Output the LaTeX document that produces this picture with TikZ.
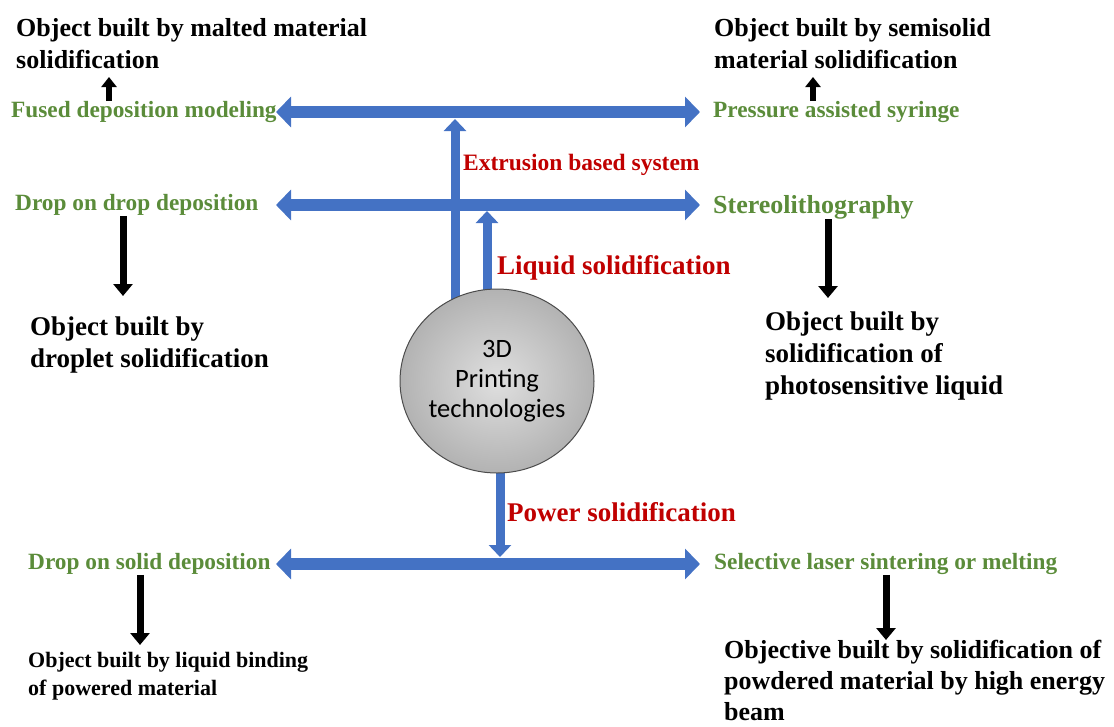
\documentclass[tikz,border=0pt]{standalone}
\usepackage{fontspec}
\setmainfont{Liberation Serif}
\newfontfamily\calib{Carlito}
\usetikzlibrary{arrows.meta,shapes.geometric}
\definecolor{barblue}{HTML}{4472C4}
\definecolor{techgreen}{HTML}{5B8C3A}
\definecolor{catred}{HTML}{C00000}
\begin{document}
\begin{tikzpicture}[x=1pt,y=-1pt,
  txt/.style={inner sep=0pt,anchor=west,align=left,font=\bfseries},
  objtop/.style={txt,font=\fontsize{26}{32}\selectfont\bfseries},
  objmid/.style={txt,font=\fontsize{27}{32}\selectfont\bfseries},
  tech/.style={txt,text=techgreen,font=\fontsize{23.3}{28}\selectfont\bfseries},
  cat/.style={txt,text=catred,font=\fontsize{27}{32}\selectfont\bfseries},
  hbar/.style={draw=barblue,line width=12pt,{Triangle[length=15pt,width=30pt]}-{Triangle[length=15pt,width=30pt]}},
  vbar/.style={draw=barblue,line width=9pt,-{Triangle[length=12pt,width=22pt]}},
  smallup/.style={draw=black,line width=5.5pt,-{Triangle[length=10pt,width=15pt]}},
  blkdown/.style={draw=black,line width=7pt,-{Triangle[length=12pt,width=19pt]}},
  corestyle/.style={ellipse,draw=gray!60!black,line width=1pt,inner color=gray!25,outer color=gray!60,
    minimum width=194pt,minimum height=184pt,inner sep=0pt,align=center,
    font=\calib\fontsize{26.5}{30}\selectfont}
]
\useasboundingbox (0,0) rectangle (1114,726);

% text nodes
\node[objtop] (o1) at (16,44) {Object built by malted material\\solidification};
\node[objtop] (o2) at (714,44) {Object built by semisolid\\material solidification};
\node[tech] (fdm) at (11,112) {Fused deposition modeling};
\node[tech] (pas) at (713,112) {Pressure assisted syringe};
\node[cat,font=\fontsize{23.5}{28}\selectfont\bfseries] (ext) at (463,165) {Extrusion based system};
\node[tech] (dod) at (15,205) {Drop on drop deposition};
\node[tech,font=\fontsize{26}{30}\selectfont\bfseries] (sla) at (713,207) {Stereolithography};
\node[cat] (liq) at (497,268) {Liquid solidification};
\node[objmid] (o3) at (30,345) {Object built by\\droplet solidification};
\node[objmid] (o4) at (765,356) {Object built by\\solidification of\\photosensitive liquid};
\node[cat] (pow) at (507,512) {Power solidification};
\node[tech] (dos) at (28,564) {Drop on solid deposition};
\node[tech] (sls) at (714,564) {Selective laser sintering or melting};
\node[txt,font=\fontsize{22}{28}\selectfont\bfseries] (o5) at (28,676) {Object built by liquid binding\\of powered material};
\node[txt,font=\fontsize{26}{31}\selectfont\bfseries] (o6) at (724,680) {Objective built by solidification of\\powdered material by high energy\\beam};

% bus coordinates
\coordinate (lx) at (276,0);
\coordinate (rx) at (700,0);
\coordinate (t1) at (455,119);
\coordinate (t2) at (487,211);
\coordinate (t3) at (500,557);

% vertical arrows from the core (drawn first, under the ellipse)
\draw[vbar] (455,340) -- (t1);
\draw[vbar] (487,340) -- (t2);
\draw[vbar] (500,430) -- (t3);

% central ellipse
\node[corestyle] (core) at (497,381) {3D\\Printing\\technologies};

% horizontal double arrows
\draw[hbar] (fdm.east -| lx) -- (pas.west -| rx);
\draw[hbar] (dod.east -| lx) -- (dod.east -| rx);
\draw[hbar] (dos.east -| lx) -- (dos.east -| rx);

% small black arrows
\coordinate (a1) at (109,77);
\coordinate (a2) at (813,77);
\coordinate (d1) at (123,296);
\coordinate (d2) at (828,298);
\coordinate (d3) at (140,645);
\coordinate (d4) at (886,640);
\draw[smallup] (fdm.north -| a1) -- (a1);
\draw[smallup] (pas.north -| a2) -- (a2);
\draw[blkdown] (dod.south -| d1) -- (d1);
\draw[blkdown] (sla.south -| d2) -- (d2);
\draw[blkdown] (dos.south -| d3) -- (d3);
\draw[blkdown] (sls.south -| d4) -- (d4);
\end{tikzpicture}
\end{document}
